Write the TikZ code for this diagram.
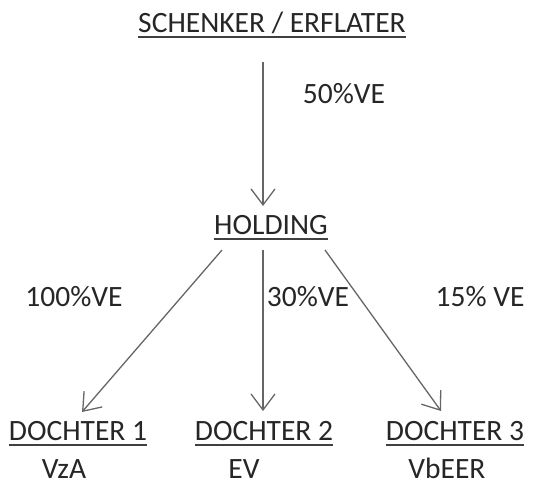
\documentclass[tikz,border=0pt]{standalone}
\usepackage{fontspec}
\setmainfont{Carlito}
\usetikzlibrary{arrows.meta}
\begin{document}
\begin{tikzpicture}[x=1pt,y=-1pt,
  lbl/.style={inner sep=0pt,anchor=base,font=\fontsize{29.5}{32}\selectfont,text=black!85},
  conn/.style={draw=black!60,line width=1.3pt,-{Straight Barb[length=16pt,width=24pt,line width=1.3pt]}}]
\useasboundingbox (0,0) rectangle (537,485);
\node[lbl] (top) at (272,32) {SCHENKER / ERFLATER};
\node[lbl] (hold) at (271,234) {HOLDING};
\node[lbl] (d1) at (78,440) {DOCHTER 1};
\node[lbl] (d2) at (264,440) {DOCHTER 2};
\node[lbl] (d3) at (455,440) {DOCHTER 3};
\node[lbl] (v1) at (64,478) {VzA};
\node[lbl] (v2) at (244,478) {EV};
\node[lbl] (v3) at (447,478) {VbEER};
\node[lbl] (p0) at (344,103) {50\%VE};
\node[lbl] (p1) at (74,306) {100\%VE};
\node[lbl] (p2) at (308,306) {30\%VE};
\node[lbl] (p3) at (480,306) {15\% VE};
\foreach \n in {top,hold,d1,d2,d3}{
  \draw[black!75,line width=1.4pt] ([yshift=-5pt]\n.base west) -- ([yshift=-5pt]\n.base east);
}
\coordinate (a0) at (263,62);
\coordinate (a1) at (263,206);
\draw[conn] (a0) -- (a1);
\coordinate (s1) at (222,250);
\coordinate (e1) at (82,412);
\coordinate (s2) at (263,250);
\coordinate (e2) at (263,411);
\coordinate (s3) at (325,250);
\coordinate (e3) at (441,411);
\draw[conn] (s1) -- (e1);
\draw[conn] (s2) -- (e2);
\draw[conn] (s3) -- (e3);
\end{tikzpicture}
\end{document}
